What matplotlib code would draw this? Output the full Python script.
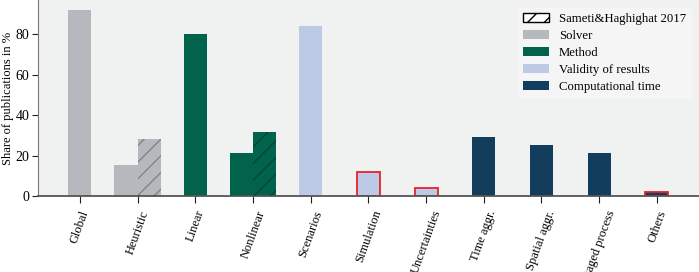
import numpy as np
import matplotlib.pyplot as plt
from matplotlib.patches import Patch

plt.rcParams['font.family'] = ['Liberation Serif', 'DejaVu Serif']
plt.rcParams['hatch.linewidth'] = 1.0

# data
labels = ['Global', 'Heuristic', 'Linear', 'Nonlinear', 'Scenarios', 'Simulation',
          'Uncertainties', 'Time aggr.', 'Spatial aggr.', 'Staged process', 'Others']
values = [92.0, 15.5, 80.2, 21.5, 84.2, 11.8, 4.0, 29.4, 25.4, 21.5, 2.0]
groups = ['Solver', 'Solver', 'Method', 'Method', 'Validity of results', 'Validity of results',
          'Validity of results', 'Computational time', 'Computational time',
          'Computational time', 'Computational time']
flagged = ['Simulation', 'Uncertainties', 'Others']
sameti_labels = ['Heuristic', 'Nonlinear']
sameti_values = [28.0, 31.6]

colors = {
    'Solver': '#b5b8bd',
    'Method': '#02634d',
    'Validity of results': '#bccae6',
    'Computational time': '#133d5c',
}

fig = plt.figure(figsize=(6.99, 2.72), dpi=100)
ax = fig.add_axes([0.054, 0.279, 0.946, 0.721])
ax.set_facecolor('#f0f1f1')

x = np.arange(len(labels))
w = 0.4
for i, (lab, val, grp) in enumerate(zip(labels, values, groups)):
    pos = i - w / 2 if lab in sameti_labels else i
    if lab in flagged:
        ax.bar(pos, val, width=w, color=colors[grp], edgecolor='#e8202a', linewidth=1.3, zorder=2)
    else:
        ax.bar(pos, val, width=w, color=colors[grp], linewidth=0, zorder=2)

# Sameti&Haghighat 2017 comparison bars (hatched)
for lab, val in zip(sameti_labels, sameti_values):
    i = labels.index(lab)
    grp = groups[i]
    ax.bar(i + w / 2, val, width=w, color=colors[grp], linewidth=0, zorder=2)
    ax.bar(i + w / 2, val, width=w, facecolor='none', edgecolor=(0, 0, 0, 0.28),
           hatch='//', linewidth=0, zorder=3)

ax.set_xticks(x)
ax.set_xticklabels(labels, rotation=70, ha='center', fontsize=9)
ax.set_xlim(-0.73, len(labels) - 0.27)
ax.set_ylim(0, 96.8)
ax.set_yticks([0, 20, 40, 60, 80])
ax.tick_params(axis='y', labelsize=10, length=4, color='#222222', pad=2)
ax.tick_params(axis='x', length=5, color='#222222', pad=4)
ax.set_ylabel('Share of publications in %', fontsize=9, labelpad=1)

for s in ['top', 'right']:
    ax.spines[s].set_visible(False)
ax.spines['left'].set_color('#777777')
ax.spines['bottom'].set_color('#555555')
ax.spines['bottom'].set_linewidth(1.3)

handles = [Patch(facecolor='white', edgecolor='black', hatch='//', label='Sameti&Haghighat 2017')]
handles += [Patch(facecolor=c, label=k) for k, c in colors.items()]
leg = ax.legend(handles=handles, loc='upper right', fontsize=9.2, frameon=True,
                labelspacing=0.4, borderaxespad=0.6, handlelength=2.0)
leg.get_frame().set_facecolor('#f5f5f5')
leg.get_frame().set_edgecolor('#f5f5f5')
leg.get_frame().set_alpha(1)

fig.savefig('out.png', dpi=100)
